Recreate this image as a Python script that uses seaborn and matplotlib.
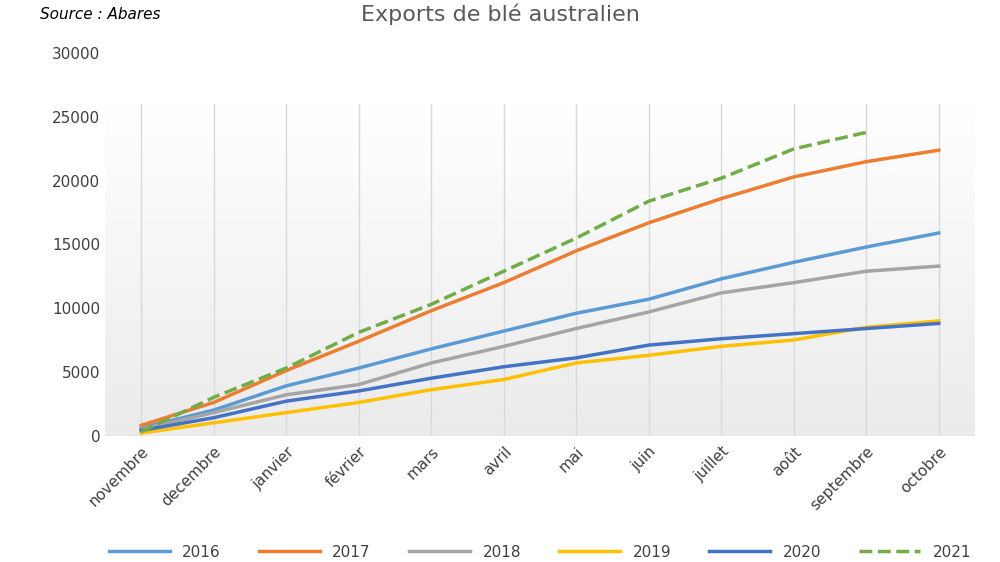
import seaborn as sns
import pandas as pd
import numpy as np
import matplotlib.pyplot as plt
from matplotlib.colors import LinearSegmentedColormap

mois = ['novembre', 'decembre', 'janvier', 'février', 'mars', 'avril', 'mai',
        'juin', 'juillet', 'août', 'septembre', 'octobre']
s2016 = [600, 2000, 3900, 5300, 6800, 8200, 9600, 10700, 12300, 13600, 14800, 15900]
s2017 = [800, 2600, 5100, 7400, 9800, 12000, 14500, 16700, 18600, 20300, 21500, 22400]
s2018 = [500, 1800, 3200, 4000, 5700, 7000, 8400, 9700, 11200, 12000, 12900, 13300]
s2019 = [200, 1000, 1800, 2600, 3600, 4400, 5700, 6300, 7000, 7500, 8500, 9000]
s2020 = [400, 1400, 2700, 3500, 4500, 5400, 6100, 7100, 7600, 8000, 8400, 8800]
s2021 = [300, 3000, 5300, 8100, 10300, 12900, 15500, 18400, 20200, 22500, 23800, np.nan]

series = {'2016': s2016, '2017': s2017, '2018': s2018,
          '2019': s2019, '2020': s2020, '2021': s2021}
couleurs = {'2016': '#5B9BD5', '2017': '#ED7D31', '2018': '#A5A5A5',
            '2019': '#FFC000', '2020': '#4472C4', '2021': '#70AD47'}

df = pd.DataFrame([(m, an, v) for an, vals in series.items() for m, v in zip(mois, vals)],
                  columns=['mois', 'annee', 'valeur'])
df['x'] = df['mois'].map({m: i for i, m in enumerate(mois)})

fig = plt.figure(figsize=(10, 5.62), dpi=100)
ax = fig.add_axes([0.105, 0.225, 0.87, 0.68])

# fond dégradé blanc -> gris clair
cmap = LinearSegmentedColormap.from_list('fond', ['#FFFFFF', '#EBEBEB'])
grad = np.linspace(0, 1, 256).reshape(-1, 1)
ax.imshow(grad, extent=[-0.5, 11.5, 0, 26000], aspect='auto', cmap=cmap,
          origin='upper', zorder=0)

for an in series:
    d = df[df['annee'] == an]
    sns.lineplot(data=d, x='x', y='valeur', ax=ax, color=couleurs[an], lw=2.5,
                 linestyle='--' if an == '2021' else '-', label=an, zorder=3)

ax.set_xlim(-0.5, 11.5)
ax.set_ylim(0, 30000)
ax.set_yticks(range(0, 30001, 5000))
ax.set_xticks(range(12))
ax.set_xticklabels(mois, rotation=45, ha='right', rotation_mode='anchor', fontsize=11, color='#404040')
ax.tick_params(axis='y', labelsize=11, labelcolor='#404040', length=0)
ax.tick_params(axis='x', length=0, pad=6)
for i in range(12):
    ax.axvline(i, ymax=26000 / 30000, color='#D9D9D9', lw=1, zorder=1)
ax.axhline(0, color='#D9D9D9', lw=1)
for s in ax.spines.values():
    s.set_visible(False)
ax.set_xlabel('')
ax.set_ylabel('')

fig.text(0.5, 0.975, 'Exports de blé australien', ha='center', va='center',
         fontsize=16, color='#595959')
fig.text(0.04, 0.975, 'Source : Abares', ha='left', va='center', fontsize=11,
         style='italic', color='black')
ax.legend(loc='upper center', bbox_to_anchor=(0.5, -0.25), ncol=6, frameon=False,
          fontsize=11, handlelength=4, columnspacing=2.5, labelcolor='#404040')

fig.savefig('out.png', dpi=100)
